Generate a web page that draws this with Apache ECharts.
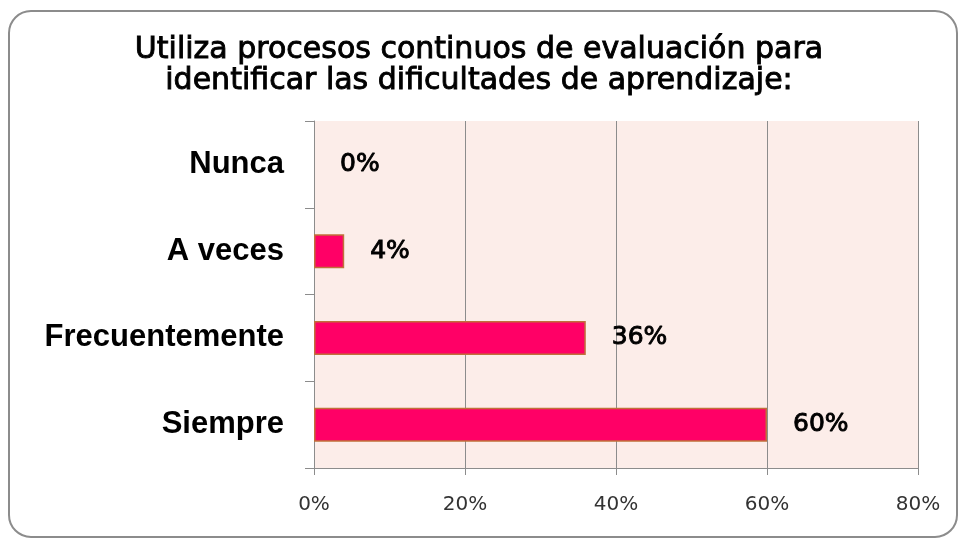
<!DOCTYPE html>
<html>
<head>
<meta charset="utf-8">
<script src="https://cdn.jsdelivr.net/npm/echarts@6/dist/echarts.min.js"></script>
<style>
  html, body { margin: 0; padding: 0; background: #fff; }
  #chart { width: 958px; height: 538px; }
</style>
</head>
<body>
<div id="chart"></div>
<script>
// respuestas, de arriba hacia abajo
var categorias = ['Nunca', 'A veces', 'Frecuentemente', 'Siempre'];
var porcentajes = [0, 4, 36, 60];
var ticksX = [0, 20, 40, 60, 80];

var chart = echarts.init(document.getElementById('chart'));

// la barra de 0% no lleva borde
var datosBarras = porcentajes.map(function (v) {
    return v === 0 ? { value: v, itemStyle: { borderWidth: 0 } } : v;
});

var option = {
    animation: false,
    graphic: [{
        type: 'rect',
        shape: { x: 9, y: 11, width: 948, height: 526, r: 22 },
        style: { fill: 'none', stroke: '#8c8c8c', lineWidth: 2 },
        z: -1
    }],
    title: {
        text: 'Utiliza procesos continuos de evaluación para\nidentificar las dificultades de aprendizaje:',
        left: 'center',
        top: 30,
        textStyle: {
            fontFamily: 'DejaVu Sans',
            fontSize: 30,
            fontWeight: 'normal',
            lineHeight: 31,
            color: '#000',
            textBorderColor: '#000',
            textBorderWidth: 0.9
        }
    },
    grid: {
        left: 314,
        right: 40,
        top: 121,
        bottom: 70,
        show: true,
        backgroundColor: '#fcede9',
        borderWidth: 0
    },
    xAxis: {
        type: 'value',
        min: ticksX[0],
        max: ticksX[ticksX.length - 1],
        interval: 20,
        axisLine: { show: true, lineStyle: { color: '#8c8c8c', width: 1 } },
        axisTick: { show: true, length: 7, lineStyle: { color: '#8c8c8c' } },
        splitLine: { show: true, lineStyle: { color: '#8c8c8c', width: 1 } },
        axisLabel: {
            margin: 27,
            fontFamily: 'DejaVu Sans',
            fontSize: 20,
            color: '#333',
            formatter: '{value}%'
        }
    },
    yAxis: {
        type: 'category',
        inverse: true,
        data: categorias,
        axisLine: { show: true, lineStyle: { color: '#8c8c8c', width: 1 } },
        axisTick: { show: true, length: 9, lineStyle: { color: '#8c8c8c' } },
        axisLabel: {
            margin: 30,
            fontFamily: 'Liberation Sans',
            fontSize: 31,
            fontWeight: 'bold',
            color: '#000'
        }
    },
    series: [{
        type: 'bar',
        data: datosBarras,
        barWidth: 34,
        itemStyle: {
            color: '#ff0066',
            borderColor: '#c0703a',
            borderWidth: 1.5
        },
        label: {
            show: true,
            position: 'right',
            distance: 26,
            formatter: '{c}%',
            fontFamily: 'DejaVu Sans',
            fontSize: 25,
            fontWeight: 'normal',
            color: '#000',
            textBorderColor: '#000',
            textBorderWidth: 0.9
        }
    }]
};
chart.setOption(option);
</script>
</body>
</html>
